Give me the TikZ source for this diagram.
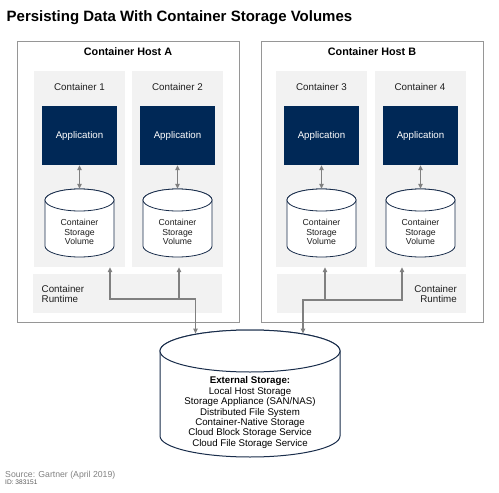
\documentclass[tikz,border=0pt]{standalone}
\usepackage{fontspec}
\setmainfont{Liberation Sans}
\usetikzlibrary{arrows.meta,calc}
\definecolor{navy}{RGB}{0,40,86}
\definecolor{panelgray}{RGB}{242,242,242}
\definecolor{hostborder}{RGB}{150,150,150}
\definecolor{arrgray}{RGB}{128,128,128}
\definecolor{cylborder}{RGB}{25,45,75}
\definecolor{srcgray}{RGB}{130,130,130}
\definecolor{idgray}{RGB}{90,90,90}
\definecolor{txtdark}{RGB}{30,30,30}
\newcommand\mycylinder[6]{%
  \filldraw[#1] (#2-#5,#3-#6) -- (#2-#5,#4+#6)
    arc[start angle=180,end angle=360,x radius=#5pt,y radius=#6pt]
    -- (#2+#5,#3-#6)
    arc[start angle=0,end angle=180,x radius=#5pt,y radius=#6pt] -- cycle;
  \draw[#1] (#2,#3-#6) ellipse[x radius=#5pt,y radius=#6pt];
}
\begin{document}
\begin{tikzpicture}[x=1pt,y=1pt,
  hostbox/.style={draw=hostborder, line width=1pt, fill=white, minimum width=222pt, minimum height=281pt, inner sep=0pt},
  panel/.style={fill=panelgray, draw=none, minimum width=91pt, minimum height=196pt, inner sep=0pt},
  rtpanel/.style={fill=panelgray, draw=none, minimum width=189pt, minimum height=39pt, inner sep=0pt},
  appbox/.style={fill=navy, draw=none, minimum width=75pt, minimum height=59pt, inner sep=0pt, text=white, font=\fontsize{9.7}{11}\selectfont},
  cylbody/.style={draw=none, minimum width=69pt, minimum height=68pt, inner sep=0pt},
  cylline/.style={draw=cylborder, line width=0.8pt, fill=white},
  extline/.style={draw=cylborder, line width=1pt, fill=white},
  cyltext/.style={align=center, inner sep=0pt, text=txtdark, font=\fontsize{8.7}{9.6}\selectfont},
  contlabel/.style={anchor=base, inner sep=0pt, text=txtdark, font=\fontsize{9.8}{11}\selectfont},
  hostlabel/.style={anchor=base, inner sep=0pt, text=black, font=\bfseries\fontsize{10.8}{13}\selectfont},
  rttext/.style={inner sep=0pt, text=txtdark, font=\fontsize{9.8}{10.2}\selectfont},
  conn/.style={draw=arrgray, line width=1.1pt},
  Tri/.tip={Triangle[length=5pt,width=4.6pt]}
]
\useasboundingbox[fill=white] (0,0) rectangle (499,-493);

% title
\node[anchor=base west, inner sep=0pt, font=\bfseries\fontsize{15}{18}\selectfont, text=black] (title) at (6.5,-21) {Persisting Data With Container Storage Volumes};

% hosts
\node[hostbox] (hostA) at (128,-181.5) {};
\node[hostbox] (hostB) at (372,-181.5) {};
\node[hostlabel] (hostAl) at (128,-55.5) {Container Host A};
\node[hostlabel] (hostBl) at (372,-55.5) {Container Host B};

% container panels
\node[panel] (cont1) at (79.5,-169) {};
\node[panel] (cont2) at (177.5,-169) {};
\node[panel] (cont3) at (321.5,-169) {};
\node[panel] (cont4) at (420,-169) {};
\node[contlabel] (cl1) at (79.5,-90.5) {Container 1};
\node[contlabel] (cl2) at (177.5,-90.5) {Container 2};
\node[contlabel] (cl3) at (321.5,-90.5) {Container 3};
\node[contlabel] (cl4) at (420,-90.5) {Container 4};

% runtime panels
\node[rtpanel] (rtA) at (127.5,-293.5) {};
\node[rtpanel] (rtB) at (371.5,-293.5) {};
\node[rttext, anchor=west, align=left] (rtAt) at (41.5,-294) {Container\\Runtime};
\node[rttext, anchor=east, align=right] (rtBt) at (457,-294) {Container\\Runtime};

% applications
\node[appbox] (app1) at (79.5,-135.5) {Application};
\node[appbox] (app2) at (177.5,-135.5) {Application};
\node[appbox] (app3) at (321.5,-135.5) {Application};
\node[appbox] (app4) at (420.5,-135.5) {Application};

% volumes
\mycylinder{cylline}{79.5}{-189}{-257}{34.5}{11}
\mycylinder{cylline}{177.5}{-189}{-257}{34.5}{11}
\mycylinder{cylline}{321.5}{-189}{-257}{34.5}{11}
\mycylinder{cylline}{420.5}{-189}{-257}{34.5}{11}
\node[cylbody] (cyl1) at (79.5,-223) {};
\node[cylbody] (cyl2) at (177.5,-223) {};
\node[cylbody] (cyl3) at (321.5,-223) {};
\node[cylbody] (cyl4) at (420.5,-223) {};
\node[cyltext] (v1) at (79.5,-232) {Container\\Storage\\Volume};
\node[cyltext] (v2) at (177.5,-232) {Container\\Storage\\Volume};
\node[cyltext] (v3) at (321.5,-232) {Container\\Storage\\Volume};
\node[cyltext] (v4) at (420.5,-232) {Container\\Storage\\Volume};

\foreach \i in {1,2,3,4}{
  \draw[conn,{Tri}-{Tri}] (app\i.south) -- (cyl\i.north);
}

% external storage
\mycylinder{extline}{250}{-330}{-457}{90}{21}
\node[draw=none, minimum width=180pt, minimum height=127pt, inner sep=0pt] (ext) at (250,-393.5) {};
\node[align=center, inner sep=0pt, text=black, font=\fontsize{9.7}{10.4}\selectfont] (extt) at (250,-412.5)
  {\textbf{External Storage:}\\Local Host Storage\\Storage Appliance (SAN/NAS)\\Distributed File System\\Container-Native Storage\\Cloud Block Storage Service\\Cloud File Storage Service};

% connectors host A
\coordinate (jA) at (195.5,-299);
\coordinate (extA) at (195.5,-333.5);
\draw[conn,{Tri}-{Tri}] ([xshift=30.5pt]cont1.south) |- (jA) -- (extA);
\draw[conn,{Tri}-] ([xshift=1.5pt]cont2.south) -- ([xshift=1.5pt]cont2.south |- jA);

% connectors host B
\coordinate (jB) at (303,-300);
\coordinate (extB) at (303,-333.5);
\draw[conn,{Tri}-{Tri}] ([xshift=-18pt]cont4.south) |- (jB) -- (extB);
\draw[conn,{Tri}-] ([xshift=3.5pt]cont3.south) -- ([xshift=3.5pt]cont3.south |- jB);

% source
\node[anchor=base west, inner sep=0pt, text=srcgray, font=\fontsize{8.7}{10}\selectfont] (src) at (5,-477.5) {Source: Gartner (April 2019)};
\node[anchor=base west, inner sep=0pt, text=idgray, font=\fontsize{6.6}{8}\selectfont] (srcid) at (5,-484.5) {ID: 383151};
\end{tikzpicture}
\end{document}
